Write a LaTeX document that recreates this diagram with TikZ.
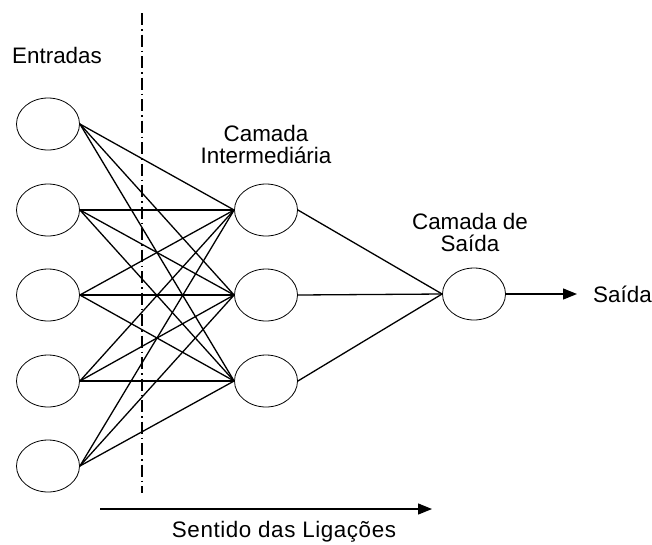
\documentclass[tikz,border=0pt]{standalone}
\usepackage{fontspec}
\setmainfont{Liberation Sans}
\usetikzlibrary{shapes.geometric,arrows.meta}

\begin{document}
\begin{tikzpicture}[x=1pt, y=-1pt,
  neuron/.style={draw, ellipse, minimum width=63pt, minimum height=52pt, inner sep=0pt, line width=0.8pt},
  link/.style={line width=1.3pt},
  txt/.style={font=\fontsize{22.4}{22}\selectfont, align=center, inner sep=0pt}]
\useasboundingbox (0,0) rectangle (652,544);
% camadas
\foreach \i/\y in {1/124,2/210,3/295,4/381,5/466}
  \node[neuron] (in\i) at (48,\y) {};
\foreach \j/\y in {1/210,2/295,3/381}
  \node[neuron] (hid\j) at (266,\y) {};
\node[neuron] (out) at (474,294) {};
% ligacoes
\foreach \i in {1,...,5}
  \foreach \j in {1,2,3}
    \draw[link] (in\i.east) -- (hid\j.west);
\foreach \j in {1,2,3}
  \draw[link] (hid\j.east) -- (out.west);
% textos
\node[txt, anchor=base] (ent) at (57,63) {Entradas};
\node[txt, anchor=base] (inter) at (266,163) {Camada\\Intermediária};
\node[txt, anchor=base] (camsai) at (470,251) {Camada de\\Saída};
\node[txt, anchor=west] (saida) at (593,294) {Saída};
\node[txt, anchor=base] (sentido) at (284,537) {\addfontfeature{LetterSpace=2.6}Sentido das Ligações};
\draw[link, -{Triangle[length=14pt,width=11pt]}, shorten >=16pt] (out.east) -- (saida.west);
% divisao e sentido
\coordinate (top) at (142,13);
\coordinate (bot) at (142,493);
\draw[line width=1.1pt, dash pattern=on 12pt off 4pt on 1.5pt off 4pt] (top) -- (bot);
\coordinate (ini) at (100,509);
\coordinate (fim) at (432,509);
\draw[link, -{Triangle[length=14pt,width=11pt]}] (ini) -- (fim);
\end{tikzpicture}
\end{document}
